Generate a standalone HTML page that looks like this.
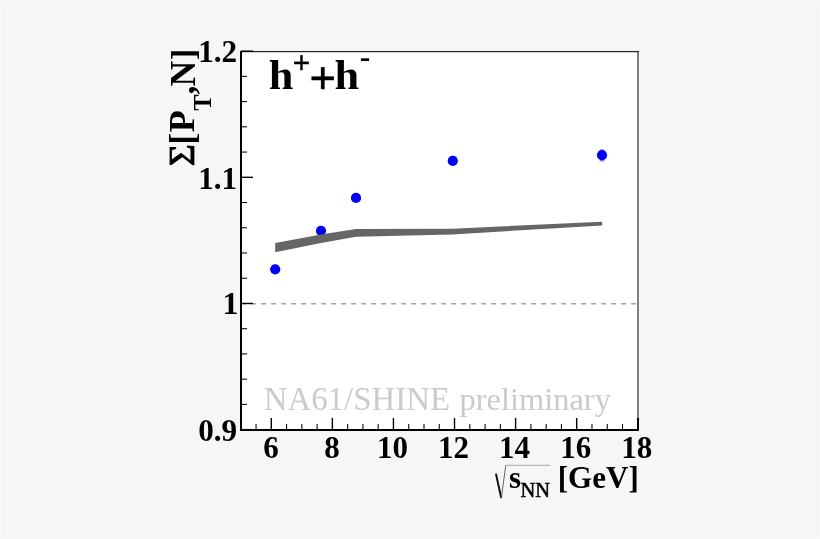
<!DOCTYPE html>
<html><head><meta charset="utf-8"><title>plot</title>
<style>
html,body{margin:0;padding:0;background:#f6f6f6;}
body{width:820px;height:539px;overflow:hidden;}
svg{display:block;}
text{font-family:"Liberation Serif","Times New Roman",serif;}
.b{font-weight:bold;fill:#000;}
</style></head><body>
<svg width="820" height="539" viewBox="0 0 820 539">
<rect x="0" y="0" width="820" height="539" fill="#f8f8f8"/>
<rect x="1" y="1" width="818" height="537" fill="#f6f6f6"/>
<rect x="241" y="51.5" width="397" height="378.5" fill="#ffffff"/>
<text font-size="33" fill="#cbcbcb"><tspan x="263.7" y="409.8" textLength="186.3" lengthAdjust="spacingAndGlyphs">NA61/SHINE</tspan> <tspan x="459.6" y="409.8" font-size="32.5" textLength="151.3" lengthAdjust="spacingAndGlyphs">preliminary</tspan></text>
<line x1="241.1" y1="303.7" x2="637" y2="303.7" stroke="#a6a6a6" stroke-width="1.4" stroke-dasharray="5,5"/>
<circle cx="275.2" cy="269.3" r="5.1" fill="#0000f8"/>
<circle cx="321.0" cy="230.8" r="5.1" fill="#0000f8"/>
<circle cx="356.0" cy="197.9" r="5.1" fill="#0000f8"/>
<circle cx="452.8" cy="160.9" r="5.1" fill="#0000f8"/>
<circle cx="602.0" cy="155.2" r="5.1" fill="#0000f8"/>
<rect x="599.6" y="149.3" width="4.8" height="12.1" rx="1.5" fill="#0000f8" fill-opacity="0.5"/>
<polygon points="275.2,242.9 321,234.5 356,229.1 452.7,228.7 602.2,221.7 602.2,225.4 452.7,234.4 356,236.8 321,242.9 275.2,252.3" fill="#666666"/>
<rect x="637" y="51" width="2" height="367" fill="#808080"/>
<rect x="240" y="51" width="399" height="1.2" fill="#222"/>
<rect x="240" y="51" width="2" height="380" fill="#000"/>
<rect x="240" y="429" width="399" height="2" fill="#000"/>
<rect x="240.25" y="424" width="1.05" height="6" fill="#000"/>
<rect x="255.52" y="424" width="1.05" height="6" fill="#000"/>
<rect x="270.59" y="418" width="1.4" height="12" fill="#000"/>
<rect x="286.06" y="424" width="1.05" height="6" fill="#000"/>
<rect x="301.33" y="424" width="1.05" height="6" fill="#000"/>
<rect x="316.60" y="424" width="1.05" height="6" fill="#000"/>
<rect x="331.67" y="418" width="1.4" height="12" fill="#000"/>
<rect x="347.13" y="424" width="1.05" height="6" fill="#000"/>
<rect x="362.40" y="424" width="1.05" height="6" fill="#000"/>
<rect x="377.67" y="424" width="1.05" height="6" fill="#000"/>
<rect x="392.74" y="418" width="1.4" height="12" fill="#000"/>
<rect x="408.21" y="424" width="1.05" height="6" fill="#000"/>
<rect x="423.48" y="424" width="1.05" height="6" fill="#000"/>
<rect x="438.75" y="424" width="1.05" height="6" fill="#000"/>
<rect x="453.82" y="418" width="1.4" height="12" fill="#000"/>
<rect x="469.29" y="424" width="1.05" height="6" fill="#000"/>
<rect x="484.56" y="424" width="1.05" height="6" fill="#000"/>
<rect x="499.83" y="424" width="1.05" height="6" fill="#000"/>
<rect x="514.90" y="418" width="1.4" height="12" fill="#000"/>
<rect x="530.37" y="424" width="1.05" height="6" fill="#000"/>
<rect x="545.63" y="424" width="1.05" height="6" fill="#000"/>
<rect x="560.90" y="424" width="1.05" height="6" fill="#000"/>
<rect x="575.97" y="418" width="1.4" height="12" fill="#000"/>
<rect x="591.44" y="424" width="1.05" height="6" fill="#000"/>
<rect x="606.71" y="424" width="1.05" height="6" fill="#000"/>
<rect x="621.98" y="424" width="1.05" height="6" fill="#000"/>
<rect x="637.05" y="418" width="1.4" height="12" fill="#000"/>
<rect x="637" y="418" width="2" height="13" fill="#000"/>
<rect x="241" y="428.95" width="12" height="1.4" fill="#000"/>
<rect x="241" y="403.87" width="6" height="1.05" fill="#000"/>
<rect x="241" y="378.63" width="6" height="1.05" fill="#000"/>
<rect x="241" y="353.40" width="6" height="1.05" fill="#000"/>
<rect x="241" y="328.17" width="6" height="1.05" fill="#000"/>
<rect x="241" y="302.78" width="12" height="1.4" fill="#000"/>
<rect x="241" y="277.70" width="6" height="1.05" fill="#000"/>
<rect x="241" y="252.47" width="6" height="1.05" fill="#000"/>
<rect x="241" y="227.23" width="6" height="1.05" fill="#000"/>
<rect x="241" y="202.00" width="6" height="1.05" fill="#000"/>
<rect x="241" y="176.62" width="12" height="1.4" fill="#000"/>
<rect x="241" y="151.53" width="6" height="1.05" fill="#000"/>
<rect x="241" y="126.30" width="6" height="1.05" fill="#000"/>
<rect x="241" y="101.07" width="6" height="1.05" fill="#000"/>
<rect x="241" y="75.83" width="6" height="1.05" fill="#000"/>
<rect x="241" y="50.45" width="12" height="1.4" fill="#000"/>
<text class="b" transform="translate(237.2,61.7) scale(0.975,1)" font-size="32" text-anchor="end">1.2</text>
<text class="b" transform="translate(237.2,188.7) scale(0.975,1)" font-size="32" text-anchor="end">1.1</text>
<text class="b" transform="translate(238.5,314.1) scale(1.0,1)" font-size="32" text-anchor="end">1</text>
<text class="b" transform="translate(237.2,441.0) scale(0.975,1)" font-size="32" text-anchor="end">0.9</text>
<text class="b" transform="translate(271.0,457.8) scale(0.97,1)" font-size="32" text-anchor="middle">6</text>
<text class="b" transform="translate(332.1,457.8) scale(0.97,1)" font-size="32" text-anchor="middle">8</text>
<text class="b" transform="translate(392.5,457.8) scale(0.97,1)" font-size="32" text-anchor="middle">10</text>
<text class="b" transform="translate(453.6,457.8) scale(0.97,1)" font-size="32" text-anchor="middle">12</text>
<text class="b" transform="translate(514.6,457.8) scale(0.97,1)" font-size="32" text-anchor="middle">14</text>
<text class="b" transform="translate(575.7,457.8) scale(0.97,1)" font-size="32" text-anchor="middle">16</text>
<text class="b" transform="translate(636.8,457.8) scale(0.97,1)" font-size="32" text-anchor="middle">18</text>
<text class="b" transform="translate(268.7,89.2) scale(1.03,1)" font-size="43">h<tspan x="23.2" y="-16.4" font-size="30.5" stroke="#000" stroke-width="0.3">+</tspan><tspan x="39.3" y="5.1" font-size="46" stroke="#000" stroke-width="0.4">+</tspan><tspan x="63.8" y="0">h</tspan><tspan x="88.4" y="-21.9" font-size="30.5">-</tspan></text>
<text class="b" transform="translate(194,166.5) rotate(-90)" font-size="36"><tspan x="0.3" y="-0.3" font-weight="normal" stroke="#000" stroke-width="0.8" textLength="22.2" lengthAdjust="spacingAndGlyphs">Σ</tspan><tspan x="21.7" y="0">[</tspan><tspan x="34.2" y="0">P</tspan><tspan x="55.8" y="16.7" font-size="24.5">T</tspan><tspan x="71.9" y="0.3">,</tspan><tspan x="80.1" y="0.6" font-size="35.5">N</tspan><tspan x="106.3" y="1.2" font-size="34.5">]</tspan></text>
<text class="b" x="508.9" y="487.8" font-size="31">s<tspan x="520.5" y="496.8" font-size="20.5" font-weight="normal" stroke="#000" stroke-width="0.5">NN</tspan><tspan x="550.05" y="487.8"> [GeV]</tspan></text>
<path d="M495.9,473.6 L501.3,498.0" fill="none" stroke="#111" stroke-width="2.0"/>
<path d="M501.3,498.4 L505.8,465.2" fill="none" stroke="#555" stroke-width="0.9"/>
<path d="M505.6,465.3 L550.2,465.3" fill="none" stroke="#a8a8a8" stroke-width="1"/>
</svg>
</body></html>
